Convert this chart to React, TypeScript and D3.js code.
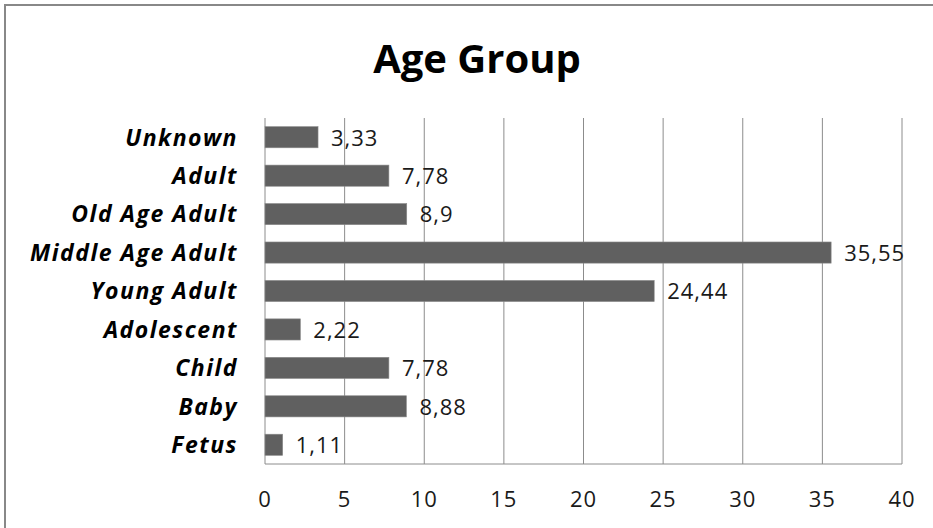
import React from "react";
import * as d3 from "d3";

const categories = ["Unknown", "Adult", "Old Age Adult", "Middle Age Adult", "Young Adult", "Adolescent", "Child", "Baby", "Fetus"];
const values = [3.33, 7.78, 8.9, 35.55, 24.44, 2.22, 7.78, 8.88, 1.11];
const valueLabels = ["3,33", "7,78", "8,9", "35,55", "24,44", "2,22", "7,78", "8,88", "1,11"];
const ticks = [0, 5, 10, 15, 20, 25, 30, 35, 40];
const title = "Age Group";

export default function App() {
  const W = 933, H = 528;
  const left = 265, right = 902, top = 118, bottom = 464;
  const x = d3.scaleLinear().domain([0, 40]).range([left, right]);
  const y = d3.scaleBand().domain(categories).range([top, bottom]).paddingInner(0.45).paddingOuter(0.225);
  const font = "'Open Sans', sans-serif";
  return (
    <svg width={W} height={H} style={{ position: "absolute", left: 0, top: 0, display: "block", background: "#fff" }}>
      <rect x={5} y={5} width={W + 10} height={H + 10} fill="#fff" stroke="#888" strokeWidth={2} />
      <text x={477} y={73} textAnchor="middle" fontFamily={font} fontWeight="bold" fontSize={40} fill="#000">{title}</text>
      {ticks.map((t) => (
        <line key={"g" + t} x1={x(t)} x2={x(t)} y1={top} y2={bottom} stroke="#8c8c8c" strokeWidth={1} />
      ))}
      <line x1={left} x2={right} y1={bottom} y2={bottom} stroke="#8c8c8c" strokeWidth={1} />
      {categories.map((c, i) => (
        <g key={c}>
          <rect x={x(0)} y={y(c)} width={x(values[i]) - x(0)} height={y.bandwidth()} fill="#606060" stroke="#8a8a8a" strokeWidth={0.6} />
          <text x={x(values[i]) + 13} y={(y(c) as number) + y.bandwidth() / 2} dy="0.38em" fontFamily={font} fontSize={22} letterSpacing={1} fill="#1a1a1a">{valueLabels[i]}</text>
          <text x={238} y={(y(c) as number) + y.bandwidth() / 2} dy="0.36em" textAnchor="end" fontFamily={font} fontWeight="bold" fontStyle="italic" fontSize={23} letterSpacing={1.5} fill="#000">{c}</text>
        </g>
      ))}
      {ticks.map((t) => (
        <text key={"t" + t} x={x(t)} y={507} textAnchor="middle" fontFamily={font} fontSize={22} letterSpacing={1} fill="#1a1a1a">{t}</text>
      ))}
    </svg>
  );
}
